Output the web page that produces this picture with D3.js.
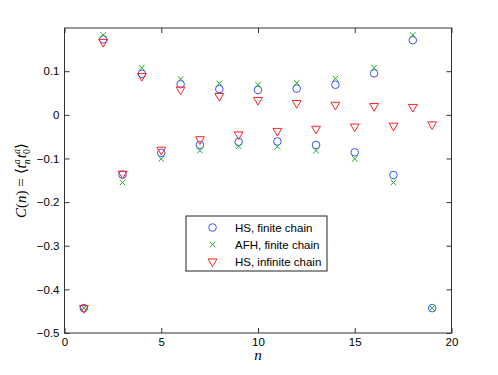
<!DOCTYPE html>
<html><head><meta charset="utf-8">
<script src="https://cdn.jsdelivr.net/npm/d3@7"></script>
<style>body{margin:0;background:#fff}svg{display:block}</style>
</head><body>
<svg id="c" width="498" height="375"></svg>
<script>
const nValues = d3.range(1, 20);
const hsFinite = [-0.443,0.173,-0.137,0.094,-0.087,0.070,-0.069,0.059,-0.062,0.057,-0.061,0.060,-0.069,0.069,-0.086,0.095,-0.138,0.171,-0.443];
const afhFinite = [-0.443,0.183,-0.155,0.108,-0.101,0.082,-0.082,0.072,-0.072,0.069,-0.073,0.073,-0.082,0.083,-0.101,0.108,-0.155,0.183,-0.443];
const hsInfinite = [-0.443,0.167,-0.135,0.089,-0.080,0.058,-0.056,0.043,-0.045,0.034,-0.037,0.027,-0.032,0.023,-0.027,0.020,-0.025,0.018,-0.022];
const xTicks = [0,5,10,15,20];
const yTicks = [-0.5,-0.4,-0.3,-0.2,-0.1,0,0.1];
const legendLabels = ["HS, finite chain","AFH, finite chain","HS, infinite chain"];

const svg = d3.select("#c");
const L=64.5, R=451.5, T=28, B=333;
const x = d3.scaleLinear().domain([0,20]).range([L,R]);
const y = d3.scaleLinear().domain([-0.5,0.199]).range([B,T]);
const axisCol="#333";
const fmt = v => v===0 ? "0" : (v<0 ? "\u2212"+Math.abs(v).toFixed(1) : v.toFixed(1));
const font="'Liberation Sans', Arial, sans-serif";

// axes
const gx = svg.append("g").attr("transform",`translate(0,${B})`)
  .call(d3.axisBottom(x).tickValues(xTicks).tickSize(-5).tickPadding(5).tickFormat(d3.format("d")));
const gxt = svg.append("g").attr("transform",`translate(0,${T})`)
  .call(d3.axisTop(x).tickValues(xTicks).tickSize(-5).tickFormat(""));
const gy = svg.append("g").attr("transform",`translate(${L},0)`)
  .call(d3.axisLeft(y).tickValues(yTicks).tickSize(-5).tickPadding(5).tickFormat(fmt));
const gyr = svg.append("g").attr("transform",`translate(${R},0)`)
  .call(d3.axisRight(y).tickValues(yTicks).tickSize(-5).tickFormat(""));
[gx,gxt,gy,gyr].forEach(g=>{
  g.select(".domain").remove();
  g.selectAll("line").attr("stroke",axisCol);
  g.selectAll("text").attr("fill","#000").style("font-family",font).style("font-size","11.5px");
});
svg.append("rect").attr("x",L).attr("y",T).attr("width",R-L).attr("height",B-T)
  .attr("fill","none").attr("stroke",axisCol).attr("stroke-width",1);

const blue="#3355ff", green="#22aa22", red="#ff2222";
const tri = d3.symbol().type(d3.symbolTriangle).size(34)();

function drawCircle(g,cx,cy){g.append("circle").attr("cx",cx).attr("cy",cy).attr("r",3.8).attr("fill","none").attr("stroke",blue).attr("stroke-width",1);}
function drawX(g,cx,cy){const s=2.8;g.append("path").attr("d",`M${cx-s},${cy-s}L${cx+s},${cy+s}M${cx-s},${cy+s}L${cx+s},${cy-s}`).attr("stroke",green).attr("stroke-width",1).attr("fill","none");}
function drawTri(g,cx,cy){g.append("path").attr("d",tri).attr("transform",`translate(${cx},${cy}) rotate(180)`).attr("fill","none").attr("stroke",red).attr("stroke-width",1);}

const pts = svg.append("g");
nValues.forEach((n,i)=>drawCircle(pts,x(n),y(hsFinite[i])));
nValues.forEach((n,i)=>drawX(pts,x(n),y(afhFinite[i])));
nValues.forEach((n,i)=>drawTri(pts,x(n),y(hsInfinite[i])));

// legend
const lg = svg.append("g");
lg.append("rect").attr("x",186).attr("y",216).attr("width",141).attr("height",55).attr("fill","#fff").attr("stroke","#222").attr("stroke-width",1);
const rows=[227.5,244.5,261.5];
drawCircle(lg,212.5,rows[0]); drawX(lg,212.5,rows[1]); drawTri(lg,212.5,rows[2]);
legendLabels.forEach((t,i)=>lg.append("text").attr("x",235).attr("y",rows[i]+4).text(t)
  .style("font-family",font).style("font-size","11.5px"));

// x label
svg.append("text").attr("x",(L+R)/2).attr("y",360).attr("text-anchor","middle")
  .style("font-family","'Liberation Serif', 'Times New Roman', serif").style("font-style","italic").style("font-size","15px").text("n");

// y label
const yl = svg.append("text").attr("transform",`translate(26,${(T+B)/2}) rotate(-90)`).attr("text-anchor","middle")
  .style("font-family","'Liberation Serif', 'Times New Roman', serif").style("font-size","15px");
yl.append("tspan").style("font-style","italic").text("C");
yl.append("tspan").text("(");
yl.append("tspan").style("font-style","italic").text("n");
yl.append("tspan").text(") = \u27E8");
yl.append("tspan").style("font-style","italic").text("t");
yl.append("tspan").style("font-style","italic").style("font-size","10px").attr("dy",-6).text("a");
yl.append("tspan").style("font-style","italic").style("font-size","10px").attr("dx",-5).attr("dy",10).text("n");
yl.append("tspan").style("font-style","italic").attr("dy",-4).attr("dx",1).text("t");
yl.append("tspan").style("font-style","italic").style("font-size","10px").attr("dy",-6).text("a");
yl.append("tspan").style("font-size","10px").attr("dx",-5).attr("dy",10).text("0");
yl.append("tspan").attr("dy",-4).text("\u27E9");
</script>
</body></html>
